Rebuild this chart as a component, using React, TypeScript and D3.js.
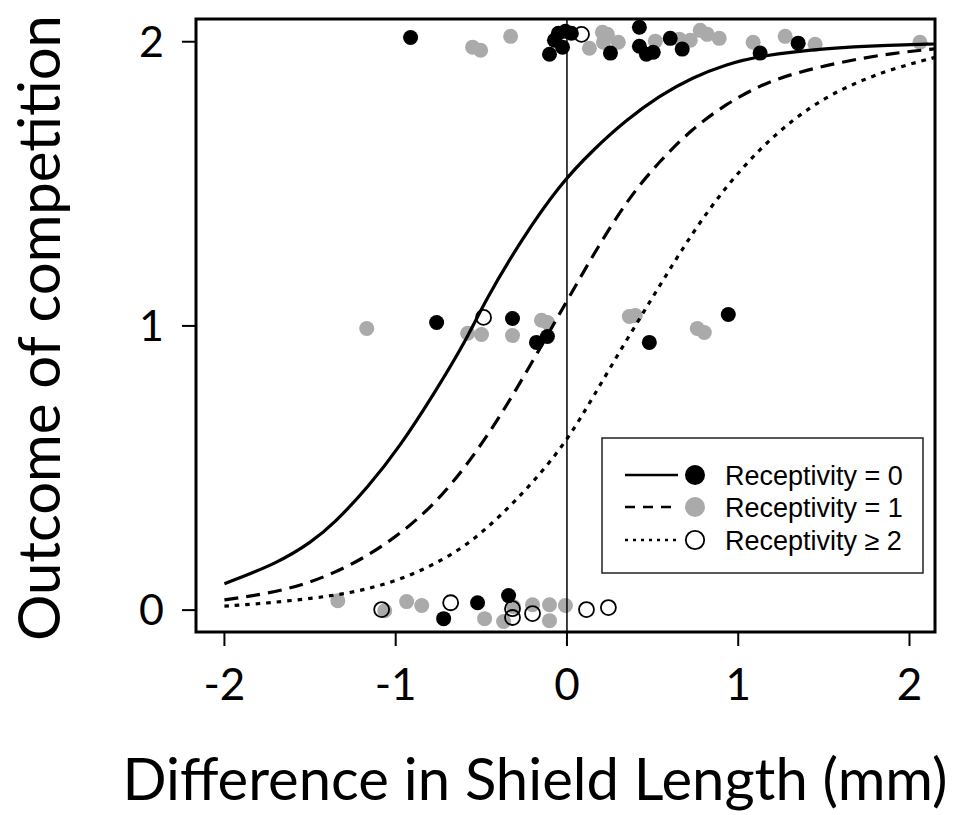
import * as d3 from "d3";

// outcome jittered around 0 / 1 / 2, x = difference in shield length (mm)
const recept0 = [
  [-0.913, 2.015], [-0.102, 1.956], [-0.073, 2.005], [-0.05, 2.03], [-0.009, 2.037],
  [0.026, 2.03], [-0.026, 1.981], [0.254, 1.96], [0.423, 2.051], [0.423, 1.984],
  [0.464, 1.956], [0.504, 1.963], [0.603, 2.012], [0.673, 1.974], [1.128, 1.96],
  [1.35, 1.995],
  [-0.761, 1.012], [-0.318, 1.026], [-0.114, 0.963], [-0.178, 0.942], [0.481, 0.942],
  [0.942, 1.04],
  [-0.72, -0.03], [-0.522, 0.026], [-0.341, 0.051],
];
const recept1 = [
  [-0.551, 1.981], [-0.504, 1.97], [-0.329, 2.019], [0.131, 1.977], [0.207, 2.033],
  [0.236, 2.026], [0.213, 1.998], [0.3, 1.998], [0.516, 2.002], [0.656, 2.009],
  [0.72, 2.005], [0.778, 2.04], [0.819, 2.026], [0.889, 2.012], [1.087, 1.998],
  [1.274, 2.019], [1.449, 1.991], [2.061, 1.998],
  [-1.169, 0.991], [-0.58, 0.974], [-0.499, 0.97], [-0.318, 0.966], [-0.149, 1.02],
  [-0.114, 1.012], [0.364, 1.033], [0.399, 1.037], [0.761, 0.991], [0.802, 0.977],
  [-1.338, 0.033], [-1.064, -0.002], [-0.936, 0.03], [-0.848, 0.016], [-0.481, -0.03],
  [-0.312, 0.012], [-0.37, -0.04], [-0.201, 0.019], [-0.102, 0.019], [-0.102, -0.037],
  [-0.009, 0.016],
];
const recept2 = [
  [0.085, 2.026],
  [-0.487, 1.03],
  [-1.082, 0.002], [-0.679, 0.026], [-0.318, 0.005], [-0.318, -0.026], [-0.201, -0.012],
  [0.114, 0.002], [0.242, 0.009],
];

// fitted curves
const fit0 = [
  [-2.0, 0.093], [-1.69, 0.165], [-1.49, 0.24], [-1.36, 0.305], [-1.165, 0.43],
  [-0.97, 0.58], [-0.777, 0.76], [-0.583, 0.955], [-0.486, 1.08], [-0.27, 1.3],
  [-0.04, 1.499], [0.153, 1.62], [0.347, 1.725], [0.54, 1.81], [0.734, 1.875],
  [0.928, 1.92], [1.12, 1.95], [1.51, 1.978], [1.896, 1.988], [2.15, 1.992],
];
const fit1 = [
  [-2.0, 0.036], [-1.75, 0.058], [-1.55, 0.087], [-1.36, 0.13], [-1.165, 0.19],
  [-0.97, 0.27], [-0.777, 0.37], [-0.583, 0.51], [-0.39, 0.68], [-0.196, 0.88],
  [0.0, 1.088], [0.153, 1.25], [0.347, 1.44], [0.54, 1.58], [0.734, 1.695],
  [0.928, 1.78], [1.12, 1.845], [1.316, 1.888], [1.607, 1.93], [1.9, 1.96],
  [2.15, 1.975],
];
const fit2 = [
  [-2.0, 0.014], [-1.75, 0.024], [-1.36, 0.05], [-1.165, 0.074], [-0.97, 0.108],
  [-0.777, 0.16], [-0.583, 0.228], [-0.39, 0.33], [-0.196, 0.45], [0.0, 0.595],
  [0.153, 0.75], [0.347, 0.95], [0.54, 1.14], [0.734, 1.33], [0.928, 1.49],
  [1.12, 1.62], [1.316, 1.725], [1.51, 1.805], [1.703, 1.86], [1.9, 1.905],
  [2.15, 1.945],
];

const xTicks = [-2, -1, 0, 1, 2];
const yTicks = [0, 1, 2];
const legendLabels = ["Receptivity = 0", "Receptivity = 1", "Receptivity \u2265 2"];

const W = 960;
const H = 815;
const box = { left: 196, right: 935, top: 19, bottom: 632 };
const GRAY = "#aaaaaa";
const font = "Lato, 'Open Sans', sans-serif";

export default function App() {
  const x = d3.scaleLinear().domain([-2.166, 2.149]).range([box.left, box.right]);
  const y = d3.scaleLinear().domain([-0.077, 2.08]).range([box.bottom, box.top]);
  const line = d3
    .line<number[]>()
    .x((d) => x(d[0]))
    .y((d) => y(d[1]))
    .curve(d3.curveBasis);

  const styles = [
    { dash: undefined, lg: undefined },
    { dash: "14 8", lg: "10 8" },
    { dash: "4.5 6", lg: "3 5" },
  ];
  const fits = [fit0, fit1, fit2];

  const dot = (d: number[], i: number, fill: string, stroke: string, sw: number) => (
    <circle key={i} cx={x(d[0])} cy={y(d[1])} r={7.5} fill={fill} stroke={stroke} strokeWidth={sw} />
  );

  const legendRows = [475, 507, 540];

  return (
    <svg
      width={W}
      height={H}
      style={{ position: "absolute", left: 0, top: 0, background: "#fff" }}
    >
      <defs>
        <clipPath id="plotclip">
          <rect x={box.left} y={box.top} width={box.right - box.left} height={box.bottom - box.top} />
        </clipPath>
      </defs>

      {/* points */}
      <g>
        {recept1.map((d, i) => dot(d, i, GRAY, "none", 0))}
        {recept0.map((d, i) => dot(d, i, "#000", "none", 0))}
        {recept2.map((d, i) => dot(d, i, "none", "#000", 1.8))}
      </g>

      {/* fitted curves */}
      <g clipPath="url(#plotclip)" fill="none" stroke="#000" strokeWidth={3.2}>
        {fits.map((f, i) => (
          <path key={i} d={line(f) || ""} strokeDasharray={styles[i].dash} />
        ))}
        <line x1={x(0)} x2={x(0)} y1={box.top} y2={box.bottom} strokeWidth={1.5} />
      </g>

      {/* frame */}
      <rect
        x={box.left}
        y={box.top}
        width={box.right - box.left}
        height={box.bottom - box.top}
        fill="none"
        stroke="#000"
        strokeWidth={3}
      />

      {/* x axis */}
      <g>
        {xTicks.map((t) => (
          <g key={t}>
            <line x1={x(t)} x2={x(t)} y1={box.bottom} y2={box.bottom + 14} stroke="#000" strokeWidth={2} />
            <text x={x(t)} y={700} textAnchor="middle" fontFamily={font} fontSize={44}>
              {t}
            </text>
          </g>
        ))}
      </g>

      {/* y axis */}
      <g>
        {yTicks.map((t) => (
          <g key={t}>
            <line x1={box.left - 14} x2={box.left} y1={y(t)} y2={y(t)} stroke="#000" strokeWidth={2} />
            <text x={164} y={y(t) + 15} textAnchor="end" fontFamily={font} fontSize={43}>
              {t}
            </text>
          </g>
        ))}
      </g>

      {/* axis titles */}
      <text x={535} y={800} textAnchor="middle" fontFamily={font} fontSize={58}>
        Difference in Shield Length (mm)
      </text>
      <text
        transform="translate(60,328) rotate(-90)"
        textAnchor="middle"
        fontFamily={font}
        fontSize={58}
      >
        Outcome of competition
      </text>

      {/* legend */}
      <rect x={602} y={438} width={321} height={135} fill="#fff" stroke="#222" strokeWidth={1.5} />
      {legendRows.map((ry, i) => (
        <g key={i}>
          <line x1={625} x2={678} y1={ry} y2={ry} stroke="#000" strokeWidth={2.5} strokeDasharray={styles[i].lg} />
          <circle
            cx={695}
            cy={ry}
            r={i === 2 ? 9.2 : 10}
            fill={i === 0 ? "#000" : i === 1 ? GRAY : "none"}
            stroke={i === 2 ? "#000" : "none"}
            strokeWidth={1.8}
          />
          <text x={725} y={ry + 9.5} fontFamily="'Liberation Sans', Arial, sans-serif" fontSize={27}>
            {legendLabels[i]}
          </text>
        </g>
      ))}
    </svg>
  );
}
